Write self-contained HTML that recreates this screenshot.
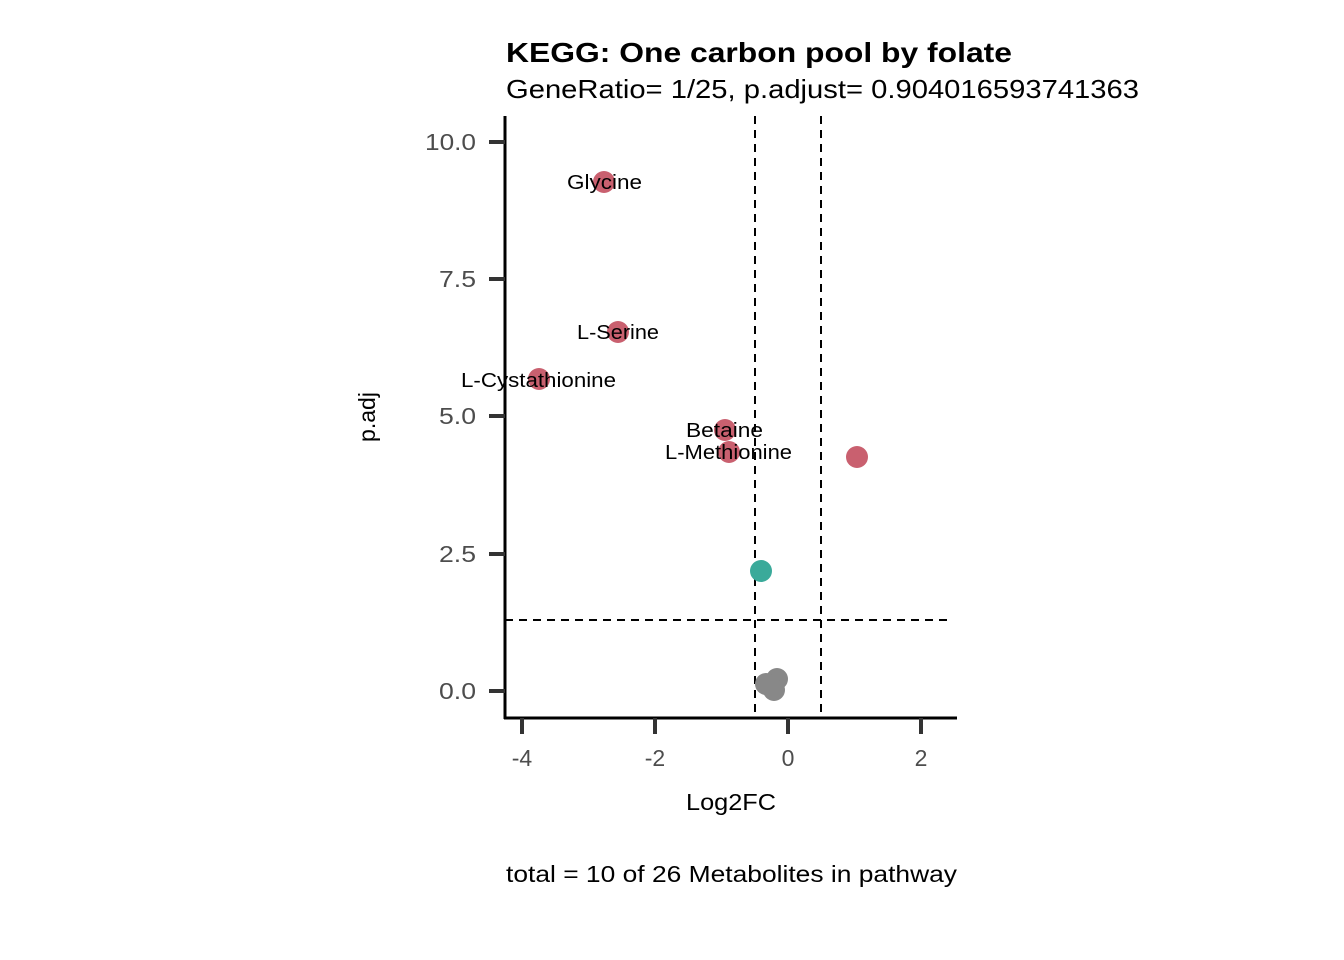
<!DOCTYPE html>
<html><head><meta charset="utf-8"><style>body{margin:0;background:#fff}svg{display:block}</style></head>
<body>
<svg width="1344" height="960" xmlns="http://www.w3.org/2000/svg" font-family="Liberation Sans, sans-serif">
<rect width="1344" height="960" fill="#fff"/>
<text x="506" y="62" font-size="28" font-weight="bold" textLength="506" lengthAdjust="spacingAndGlyphs">KEGG: One carbon pool by folate</text>
<text x="506" y="98" font-size="26" textLength="633" lengthAdjust="spacingAndGlyphs">GeneRatio= 1/25, p.adjust= 0.904016593741363</text>
<g stroke="#000" stroke-width="2" stroke-dasharray="8,6" fill="none">
<line x1="755" y1="116" x2="755" y2="718"/>
<line x1="821" y1="116" x2="821" y2="718"/>
<line x1="505" y1="620" x2="950" y2="620"/>
</g>
<g fill="#C9606F">
<circle cx="604" cy="182" r="11"/><circle cx="618" cy="332" r="11"/><circle cx="539" cy="379" r="11"/>
<circle cx="725" cy="430" r="11"/><circle cx="729" cy="452" r="11"/><circle cx="857" cy="457" r="11"/>
</g>
<circle cx="761" cy="571" r="11" fill="#3AAA9A"/>
<g fill="#888"><circle cx="777" cy="679" r="11"/><circle cx="766" cy="684" r="11"/><circle cx="774" cy="690" r="11"/></g>
<g font-size="20" fill="#000" lengthAdjust="spacingAndGlyphs">
<text x="567" y="189" textLength="75" lengthAdjust="spacingAndGlyphs">Glycine</text>
<text x="577" y="339" textLength="82" lengthAdjust="spacingAndGlyphs">L-Serine</text>
<text x="461" y="387" textLength="155" lengthAdjust="spacingAndGlyphs">L-Cystathionine</text>
<text x="686" y="437" textLength="77" lengthAdjust="spacingAndGlyphs">Betaine</text>
<text x="665" y="459" textLength="127" lengthAdjust="spacingAndGlyphs">L-Methionine</text>
</g>
<g stroke="#000" stroke-width="3"><line x1="505" y1="116" x2="505" y2="719"/><line x1="504" y1="718" x2="957" y2="718"/></g>
<g stroke="#333" stroke-width="4">
<line x1="489" y1="142" x2="505" y2="142"/><line x1="489" y1="279" x2="505" y2="279"/><line x1="489" y1="416" x2="505" y2="416"/><line x1="489" y1="554" x2="505" y2="554"/><line x1="489" y1="691" x2="505" y2="691"/>
<line x1="522" y1="718" x2="522" y2="734"/><line x1="655" y1="718" x2="655" y2="734"/><line x1="788" y1="718" x2="788" y2="734"/><line x1="921" y1="718" x2="921" y2="734"/>
</g>
<g font-size="23" fill="#4d4d4d">
<text x="425" y="150" textLength="51" lengthAdjust="spacingAndGlyphs">10.0</text>
<text x="439" y="287" textLength="37" lengthAdjust="spacingAndGlyphs">7.5</text>
<text x="439" y="424" textLength="37" lengthAdjust="spacingAndGlyphs">5.0</text>
<text x="439" y="562" textLength="37" lengthAdjust="spacingAndGlyphs">2.5</text>
<text x="439" y="699" textLength="37" lengthAdjust="spacingAndGlyphs">0.0</text>
</g>
<g font-size="23" fill="#4d4d4d" text-anchor="middle">
<text x="522" y="766">-4</text><text x="655" y="766">-2</text><text x="788" y="766">0</text><text x="921" y="766">2</text>
</g>
<text x="686" y="810" font-size="23" textLength="90" lengthAdjust="spacingAndGlyphs">Log2FC</text>
<text transform="translate(375,417) rotate(-90)" font-size="23" text-anchor="middle">p.adj</text>
<text x="506" y="882" font-size="23" textLength="451" lengthAdjust="spacingAndGlyphs">total = 10 of 26 Metabolites in pathway</text>
</svg>
</body></html>
